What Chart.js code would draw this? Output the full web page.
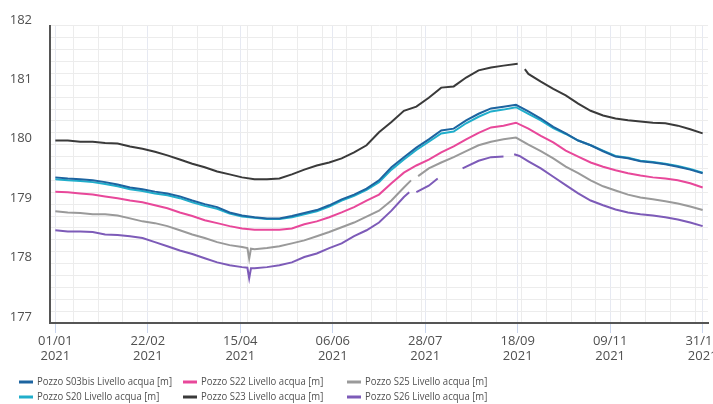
<!DOCTYPE html>
<html>
<head>
<meta charset="utf-8">
<script src="https://cdn.jsdelivr.net/npm/chart.js@4/dist/chart.umd.min.js"></script>
<style>
  html, body { margin: 0; padding: 0; background: #fff; }
  #wrap { width: 713px; height: 404px; position: relative; }
</style>
</head>
<body>
<div id="wrap"><canvas id="chart"></canvas></div>
<script>
// Water level per well, 2021. Each point is [day of year (0 = 1 Jan), level in m];
// null levels mark missing readings.
const S03BIS = [[0,179.45],[7,179.43],[14,179.42],[21,179.40],[28,179.37],[35,179.33],[42,179.28],[49,179.25],[56,179.21],[63,179.18],[70,179.13],[77,179.06],[84,179.00],[91,178.95],[98,178.86],[105,178.81],[112,178.78],[119,178.76],[126,178.76],[133,178.80],[140,178.85],[147,178.90],[154,178.98],[161,179.08],[168,179.16],[175,179.26],[182,179.40],[189,179.62],[196,179.79],[203,179.95],[210,180.09],[217,180.24],[224,180.27],[231,180.41],[238,180.52],[245,180.61],[252,180.64],[259,180.67],[266,180.56],[273,180.44],[280,180.30],[287,180.19],[294,180.07],[301,179.99],[308,179.89],[315,179.80],[322,179.77],[329,179.72],[336,179.70],[343,179.67],[350,179.63],[357,179.58],[364,179.52]];
const S20 = [[0,179.42],[7,179.40],[14,179.39],[21,179.37],[28,179.34],[35,179.30],[42,179.25],[49,179.22],[56,179.18],[63,179.15],[70,179.10],[77,179.03],[84,178.97],[91,178.92],[98,178.84],[105,178.79],[112,178.77],[119,178.75],[126,178.75],[133,178.78],[140,178.83],[147,178.88],[154,178.96],[161,179.06],[168,179.14],[175,179.24],[182,179.37],[189,179.58],[196,179.75],[203,179.91],[210,180.05],[217,180.19],[224,180.22],[231,180.36],[238,180.47],[245,180.56],[252,180.59],[259,180.63],[266,180.52],[273,180.41],[280,180.28],[287,180.18],[294,180.07],[301,179.99],[308,179.90],[315,179.81],[322,179.78],[329,179.73],[336,179.71],[343,179.68],[350,179.64],[357,179.59],[364,179.53]];
const S22 = [[0,179.21],[7,179.20],[14,179.18],[21,179.16],[28,179.13],[35,179.10],[42,179.06],[49,179.03],[56,178.98],[63,178.93],[70,178.86],[77,178.80],[84,178.73],[91,178.68],[98,178.63],[105,178.59],[112,178.57],[119,178.57],[126,178.57],[133,178.59],[140,178.66],[147,178.71],[154,178.78],[161,178.86],[168,178.95],[175,179.06],[182,179.16],[189,179.35],[196,179.53],[203,179.65],[210,179.75],[217,179.87],[224,179.97],[231,180.09],[238,180.20],[245,180.29],[252,180.32],[259,180.37],[266,180.27],[273,180.15],[280,180.04],[287,179.90],[294,179.80],[301,179.70],[308,179.63],[315,179.57],[322,179.52],[329,179.48],[336,179.45],[343,179.43],[350,179.40],[357,179.35],[364,179.28]];
const S23 = [[0,180.07],[7,180.07],[14,180.05],[21,180.05],[28,180.03],[35,180.02],[42,179.97],[49,179.93],[56,179.88],[63,179.82],[70,179.75],[77,179.68],[84,179.62],[91,179.55],[98,179.50],[105,179.45],[112,179.42],[119,179.42],[126,179.43],[133,179.50],[140,179.58],[147,179.65],[154,179.70],[161,179.77],[168,179.87],[175,179.99],[182,180.21],[189,180.38],[196,180.57],[203,180.64],[210,180.79],[217,180.96],[224,180.98],[231,181.13],[238,181.25],[245,181.30],[252,181.33],[260,181.36],[262,null],[264,181.27],[266,181.19],[273,181.06],[280,180.94],[287,180.83],[294,180.69],[301,180.57],[308,180.49],[315,180.44],[322,180.41],[329,180.39],[336,180.37],[343,180.36],[350,180.32],[357,180.26],[364,180.19]];
const S25 = [[0,178.88],[7,178.86],[14,178.85],[21,178.83],[28,178.83],[35,178.81],[42,178.76],[49,178.71],[56,178.68],[63,178.63],[70,178.56],[77,178.49],[84,178.43],[91,178.36],[98,178.31],[105,178.28],[108,178.26],[109,178.08],[110,178.25],[112,178.24],[119,178.26],[126,178.29],[133,178.34],[140,178.39],[147,178.46],[154,178.53],[161,178.61],[168,178.69],[175,178.79],[182,178.89],[189,179.06],[196,179.28],[200,179.40],[202,null],[204,179.47],[210,179.60],[217,179.70],[224,179.79],[231,179.89],[238,179.99],[245,180.05],[252,180.09],[259,180.12],[266,180.00],[273,179.89],[280,179.77],[287,179.63],[294,179.52],[301,179.40],[308,179.30],[315,179.23],[322,179.16],[329,179.11],[336,179.08],[343,179.05],[350,179.01],[357,178.96],[364,178.90]];
const S26 = [[0,178.56],[7,178.54],[14,178.54],[21,178.53],[28,178.49],[35,178.48],[42,178.46],[49,178.43],[56,178.36],[63,178.29],[70,178.22],[77,178.16],[84,178.09],[91,178.02],[98,177.97],[105,177.94],[108,177.93],[109,177.75],[110,177.92],[112,177.92],[119,177.94],[126,177.97],[133,178.02],[140,178.11],[147,178.17],[154,178.26],[161,178.34],[168,178.46],[175,178.56],[182,178.69],[189,178.89],[196,179.12],[199,179.20],[201,null],[203,179.20],[210,179.31],[215,179.43],[222,null],[229,179.60],[238,179.73],[245,179.79],[252,179.80],[255,null],[258,179.84],[261,179.81],[266,179.72],[273,179.60],[280,179.46],[287,179.32],[294,179.18],[301,179.06],[308,178.98],[315,178.91],[322,178.86],[329,178.83],[336,178.81],[343,178.78],[350,178.74],[357,178.69],[364,178.63]];

const SERIES_NAMES = ['Pozzo S03bis Livello acqua [m]','Pozzo S20 Livello acqua [m]','Pozzo S22 Livello acqua [m]','Pozzo S23 Livello acqua [m]','Pozzo S25 Livello acqua [m]','Pozzo S26 Livello acqua [m]'];
const SERIES_COLORS = ['#1d64a0','#20aecb','#e8489a','#3a3a3a','#9a9a9a','#7d5bb8'];
const SERIES_DATA = [S03BIS, S20, S22, S23, S25, S26];

// Labelled date ticks every 52 days, plus fortnightly Monday grid lines
const LABEL_DAYS = [0,52,104,156,208,260,312,364];
const GRID_DAYS = [10,24,38,66,80,94,108,122,136,150,164,178,192,206,220,234,248,262,276,290,304,318,332,346,360];
const YEAR = 2021;

// Legend grid: three columns, two rows
const LEGEND_LAYOUT = [[0,0],[1,0],[0,1],[1,1],[0,2],[1,2]]; // [row, column] per series
const LEGEND_COL_X = [19,183,347];
const LEGEND_ROW_Y = [382,397];

function dayLabel(d) {
  const dt = new Date(YEAR, 0, 1 + d);
  const dd = String(dt.getDate()).padStart(2,'0');
  const mm = String(dt.getMonth()+1).padStart(2,'0');
  return [dd + '/' + mm, String(dt.getFullYear())];
}

const FONT = "'Open Sans', sans-serif";

const gridLegend = {
  id: 'gridLegend',
  afterDraw(chart) {
    const ctx = chart.ctx;
    ctx.save();
    ctx.font = '11.5px ' + FONT;
    ctx.textBaseline = 'middle';
    chart.data.datasets.forEach((ds, i) => {
      const [r, c] = LEGEND_LAYOUT[i];
      const x = LEGEND_COL_X[c], y = LEGEND_ROW_Y[r];
      ctx.strokeStyle = ds.borderColor;
      ctx.lineWidth = 3;
      ctx.beginPath();
      ctx.moveTo(x, y);
      ctx.lineTo(x + 14, y);
      ctx.stroke();
      ctx.fillStyle = '#505050';
      ctx.save();
      ctx.translate(x + 18, y);
      ctx.scale(0.83, 1);
      ctx.fillText(ds.label, 0, 0);
      ctx.restore();
    });
    ctx.restore();
  }
};

const isLabelDay = c => c.tick && LABEL_DAYS.includes(c.tick.value);

new Chart(document.getElementById('chart'), {
  type: 'line',
  data: {
    datasets: SERIES_DATA.map((pts, i) => ({
      label: SERIES_NAMES[i],
      data: pts.map(p => ({x: p[0], y: p[1]})),
      borderColor: SERIES_COLORS[i],
      backgroundColor: SERIES_COLORS[i],
      borderWidth: 2,
      pointRadius: 0,
      tension: 0,
      spanGaps: false
    }))
  },
  options: {
    responsive: true,
    maintainAspectRatio: false,
    animation: false,
    layout: { padding: { top: 25, right: 5, left: 0, bottom: 0 } },
    plugins: { legend: { display: false }, tooltip: { enabled: false } },
    scales: {
      x: {
        type: 'linear',
        min: -3,
        max: 367,
        afterBuildTicks(scale) {
          const all = LABEL_DAYS.concat(GRID_DAYS).sort((a,b)=>a-b);
          scale.ticks = all.map(v => ({value: v}));
        },
        afterFit(scale) {
          scale.height = 81;
          scale.paddingLeft = 0;
          scale.paddingRight = 0;
        },
        border: { display: true, color: '#555', width: 2 },
        grid: {
          color: c => isLabelDay(c) ? '#e6e9f2' : '#ececec',
          lineWidth: 1,
          drawTicks: true,
          tickLength: 10,
          tickColor: c => isLabelDay(c) ? '#c9d5ee' : 'rgba(0,0,0,0)'
        },
        ticks: {
          autoSkip: false,
          maxRotation: 0,
          minRotation: 0,
          padding: 0,
          color: '#505050',
          font: { family: FONT, size: 13 },
          callback: v => LABEL_DAYS.includes(v) ? dayLabel(v) : ''
        }
      },
      y: {
        min: 177,
        max: 182,
        afterFit(scale) { scale.width = 50; },
        border: { display: true, color: '#555', width: 2 },
        grid: { color: '#ececec', lineWidth: 1, drawTicks: false },
        ticks: {
          stepSize: 0.2,
          autoSkip: false,
          padding: 18,
          labelOffset: -6,
          color: '#505050',
          font: { family: FONT, size: 13 },
          callback: v => Math.abs(v - Math.round(v)) < 1e-6 ? String(Math.round(v)) : ''
        }
      }
    }
  },
  plugins: [gridLegend]
});
</script>
</body>
</html>
